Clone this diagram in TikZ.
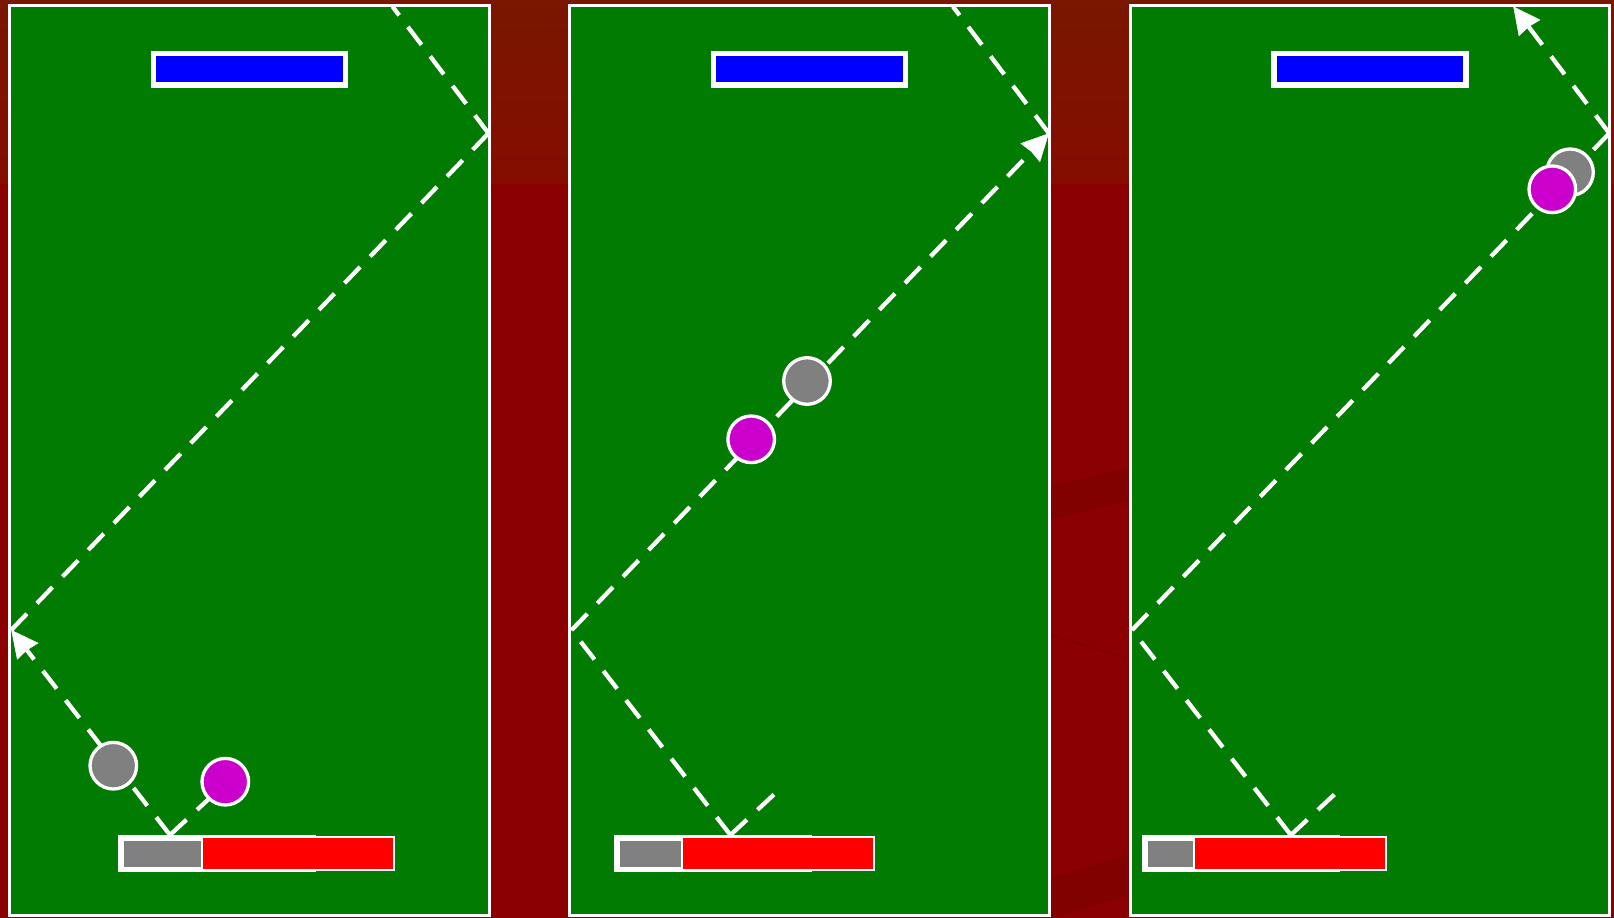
\documentclass[tikz,border=0pt]{standalone}
\usetikzlibrary{arrows.meta}
\definecolor{bgred}{RGB}{139,0,0}
\definecolor{bgtop}{RGB}{121,23,0}
\definecolor{bgmid}{RGB}{133,13,0}
\definecolor{bandred}{RGB}{129,0,0}
\definecolor{field}{RGB}{2,123,2}
\definecolor{ballmag}{RGB}{204,0,204}
\definecolor{padgray}{RGB}{128,128,128}
\begin{document}
\begin{tikzpicture}[x=1pt,y=-1pt,
  panelbox/.style={rectangle,draw=white,line width=3pt,fill=field,inner sep=0pt,minimum width=479.5pt,minimum height=910pt},
  bluepad/.style={rectangle,draw=white,line width=5.5pt,fill=blue,inner sep=0pt,minimum width=192pt,minimum height=31.5pt},
  ghostpad/.style={rectangle,draw=white,line width=5.5pt,fill=padgray,inner sep=0pt,minimum width=192pt,minimum height=31.5pt},
  redpad/.style={rectangle,draw=white,line width=2pt,fill=red,inner sep=0pt,minimum width=192.5pt,minimum height=32.4pt},
  ball/.style={circle,draw=white,line width=3.3pt,inner sep=0pt,minimum size=46.6pt},
  traj/.style={draw=white,line width=4.3pt,dash pattern=on 22.5pt off 14.5pt},
  trajarrow/.style={traj,-{Stealth[length=27pt,width=27pt,inset=1.5pt,line width=0.5pt]}}
]
\useasboundingbox (0,0) rectangle (1614,918);
% background
\fill[bgred] (0,0) rectangle (1614,918);
\shade[top color=bgtop,bottom color=bgmid] (0,0) rectangle (1614,183);
% faint bands between panels 2 and 3
\fill[bandred] (1050,486) -- (1129,468) -- (1129,500) -- (1050,520) -- cycle;
\draw[bandred,line width=2pt] (1050,635) -- (1129,659);
\fill[bandred] (1050,878) -- (1129,855) -- (1129,896) -- (1050,918) -- cycle;

\foreach \k/\ox in {1/9.5,2/569.9,3/1130.3}{
  \node[panelbox] (P\k) at (\ox+239.75,460.4) {};
  \node[bluepad] (B\k) at (\ox+239.8,69.3) {};
  \coordinate (C\k) at (\ox+160.5,835);
  \coordinate (E\k) at (\ox+206,792.7);
  \coordinate (L\k) at (\ox+1.8,630);
  \coordinate (R\k) at (\ox+479,133.3);
  \coordinate (T\k) at (\ox+383,6.5);
}

% panel 1 trajectory
\draw[trajarrow] (C1) -- (L1);
\draw[traj] (L1) -- (R1);
\draw[traj] (R1) -- (T1);
\draw[traj] (C1) -- (E1);
% panel 2 trajectory
\draw[traj] (C2) -- (L2);
\draw[trajarrow] (L2) -- (R2);
\draw[traj] (R2) -- (T2);
\draw[traj] (C2) -- (E2);
% panel 3 trajectory
\draw[traj] (C3) -- (L3);
\draw[traj] (L3) -- (R3);
\draw[trajarrow] (R3) -- (T3);
\draw[traj] (C3) -- (E3);

% paddles
\node[ghostpad] (G1) at (217.2,853.5) {};
\node[redpad] (D1) at (297.75,853.5) {};
\node[ghostpad] (G2) at (713.2,853.5) {};
\node[redpad] (D2) at (777.75,853.5) {};
\node[ghostpad] (G3) at (1241.2,853.5) {};
\node[redpad] (D3) at (1289.9,853.5) {};

% balls
\node[ball,fill=padgray] (g1) at (113.3,765.7) {};
\node[ball,fill=ballmag] (m1) at (225.3,781.7) {};
\node[ball,fill=padgray] (g2) at (807,381) {};
\node[ball,fill=ballmag] (m2) at (751.2,439.3) {};
\node[ball,fill=padgray] (g3) at (1570,172.3) {};
\node[ball,fill=ballmag] (m3) at (1552.3,189.3) {};
\end{tikzpicture}
\end{document}
